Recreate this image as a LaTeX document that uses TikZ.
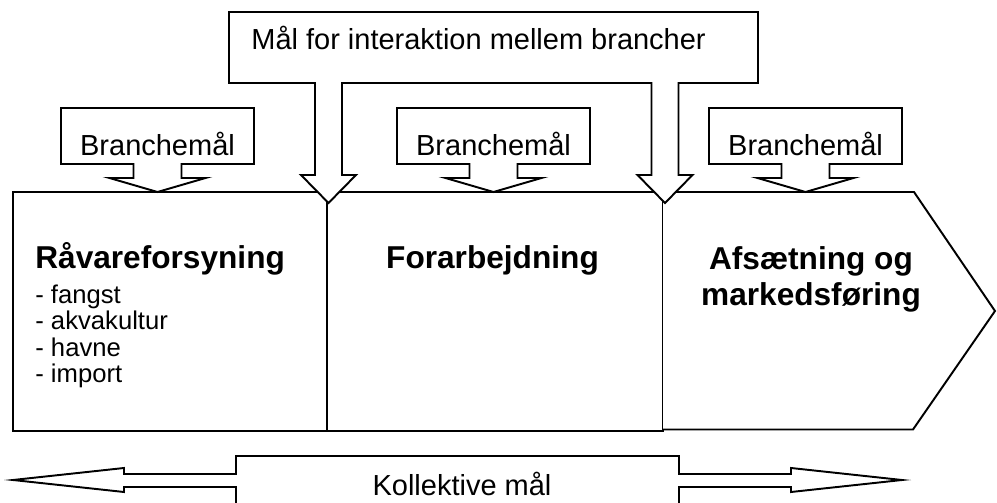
\documentclass[tikz,border=0pt]{standalone}
\usepackage{fontspec}
\setmainfont{Liberation Sans}
\usepackage{tikz}
\usetikzlibrary{positioning}

\begin{document}
\begin{tikzpicture}[x=0.02cm,y=-0.02cm,line join=miter,
        outline/.style={draw,line width=1.1pt,fill=white},
        goaltext/.style={inner sep=0pt,font=\fontsize{16.5}{19}\selectfont},
        stagetext/.style={inner sep=0pt,anchor=base,font=\bfseries\fontsize{18}{21}\selectfont},
        listitem/.style={inner sep=0pt,anchor=base west,font=\fontsize{14.6}{17}\selectfont}]
    \useasboundingbox (0,0) rectangle (997,503);

    % value chain
    \draw[outline] (13,192) rectangle (327,431);
    \draw[outline] (327,192) rectangle (663,431);
    \draw[outline] (663,192) -- (914,192) -- (995,311) -- (913,429.5) -- (663,429.5);

    \node[stagetext,anchor=base west] (raavare) at (35,269) {Råvareforsyning};
    \foreach \item [count=\i] in {fangst,akvakultur,havne,import}
        \node[listitem] (item\i) at (35,{276.5+26.5*\i}) {- \item};
    \node[stagetext] (forarb) at (492.5,269) {Forarbejdning};
    \node[stagetext] (afsaet) at (811,270) {Afsætning og};
    \node[stagetext] (marked) at (811,305) {markedsføring};

    % goals per branch
    \foreach \cx [count=\i] in {157.5,493.5,805.5} {
        \draw[outline] (\cx-96.5,108) -- (\cx+96.5,108) -- (\cx+96.5,164) -- (\cx+24,164)
            -- (\cx+24,178) -- (\cx+48,178) -- (\cx,192) -- (\cx-48,178) -- (\cx-24,178)
            -- (\cx-24,164) -- (\cx-96.5,164) -- cycle;
        \node[goaltext,anchor=base] (branch\i) at (\cx,156) {Branchemål};
    }

    % goal for interaction
    \draw[outline] (229,12) -- (758,12) -- (758,83) -- (678.5,83) -- (678.5,175) -- (692.5,175)
        -- (665,203) -- (637.5,175) -- (651.5,175) -- (651.5,83) -- (342,83) -- (342,175)
        -- (356,175) -- (328.5,203) -- (301,175) -- (315,175) -- (315,83) -- (229,83) -- cycle;
    \node[goaltext,anchor=base west] (interaktion) at (251,49.5) {Mål for interaktion mellem brancher};

    % collective goals
    \draw[outline] (236,504) -- (236,487) -- (124,487) -- (124,492) -- (13,480) -- (124,468)
        -- (124,474) -- (236,474) -- (236,456) -- (679,456) -- (679,474) -- (791,474)
        -- (791,468) -- (902,480) -- (791,492) -- (791,487) -- (679,487) -- (679,504);
    \node[goaltext,anchor=base] (kollektiv) at (462,495) {Kollektive mål};
\end{tikzpicture}
\end{document}
